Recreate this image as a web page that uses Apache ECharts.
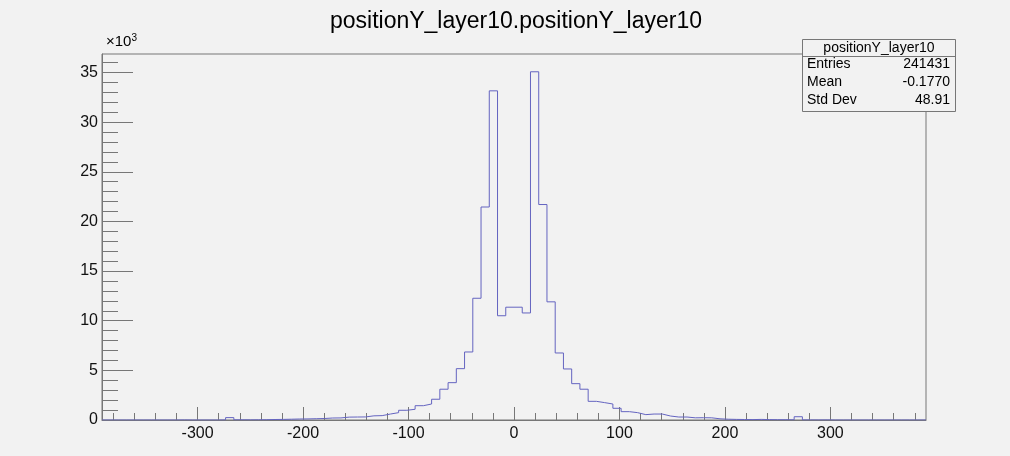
<!DOCTYPE html>
<html>
<head>
<meta charset="utf-8">
<script src="https://cdn.jsdelivr.net/npm/echarts@6/dist/echarts.min.js"></script>
<style>
  html, body { margin: 0; padding: 0; background: #f2f2f2; }
  #main { width: 1010px; height: 456px; }
</style>
</head>
<body>
<div id="main"></div>
<script>
// histogram range and bin contents (100 bins)
const xMin = -390.625;
const xMax = 390.625;
const counts = [
  0, 0, 0, 0, 0, 0, 0, 0, 0, 10,
  0, 0, 0, 0, 10, 240, 20, 15, 20, 30,
  50, 60, 80, 100, 110, 130, 150, 200, 210, 290,
  300, 310, 420, 440, 600, 740, 980, 1080, 1440, 1610,
  2090, 3100, 3760, 5170, 6850, 12260, 21450, 33150, 10500, 11360,
  11360, 10780, 35070, 21700, 11900, 6750, 5140, 3660, 3100, 1880,
  1750, 1610, 1180, 840, 740, 540, 600, 600, 400, 300,
  300, 220, 230, 220, 120, 80, 60, 50, 40, 60,
  40, 30, 30, 20, 330, 10, 5, 10, 0, 0,
  0, 0, 0, 0, 0, 0, 0, 0, 0, 0
];
const xMajorTicks = [-300, -200, -100, 0, 100, 200, 300];
const xMinorTicks = [];
for (let v = -380; v <= 380; v += 20) xMinorTicks.push(v);
const yMajorTicks = [0, 5000, 10000, 15000, 20000, 25000, 30000, 35000];
const yMinorTicks = [];
for (let v = 0; v <= 36000; v += 1000) yMinorTicks.push(v);
const yMax = 36860;

const statNames = ['Entries', 'Mean', 'Std Dev'];
const statValues = ['241431', '-0.1770', '48.91'];

const binWidth = (xMax - xMin) / counts.length;
const stepData = [[xMin, 0]];
counts.forEach(function (c, i) {
  stepData.push([xMin + i * binWidth, c]);
});
stepData.push([xMax, counts[counts.length - 1]]);
stepData.push([xMax, 0]);

const font = 'Liberation Sans';
const axisGrey = '#777777';

const chart = echarts.init(document.getElementById('main'));

const graphics = [
  {
    type: 'text', left: 106, top: 33,
    style: {
      text: '×10{sup|3}',
      font: '15px "' + font + '"', fill: '#000',
      rich: { sup: { fontSize: 10, verticalAlign: 'top', padding: [0, 0, 8, 0], fontFamily: font } }
    }
  },
  {
    type: 'rect',
    shape: { x: 802.5, y: 39.5, width: 153, height: 72 },
    style: { fill: '#f2f2f2', stroke: axisGrey, lineWidth: 1 }
  },
  {
    type: 'line',
    shape: { x1: 802.5, y1: 56.5, x2: 955.5, y2: 56.5 },
    style: { stroke: axisGrey, lineWidth: 1 }
  },
  {
    type: 'text', x: 879, y: 48,
    style: { text: 'positionY_layer10', font: '14px "' + font + '"', fill: '#000',
      align: 'center', verticalAlign: 'middle' }
  }
];
statNames.forEach(function (n, i) {
  graphics.push({
    type: 'text', left: 807, top: 57 + i * 18,
    style: { text: n, font: '14px "' + font + '"', fill: '#000' }
  });
  graphics.push({
    type: 'text', right: 60, top: 57 + i * 18,
    style: { text: statValues[i], font: '14px "' + font + '"', fill: '#000', align: 'right' }
  });
});

const option = {
  backgroundColor: '#f2f2f2',
  animation: false,
  title: {
    text: 'positionY_layer10.positionY_layer10',
    left: 511,
    top: 5,
    textAlign: 'center',
    textStyle: { fontFamily: font, fontSize: 23, fontWeight: 'normal', color: '#000' }
  },
  grid: {
    left: 102, right: 84, top: 54, bottom: 36,
    show: true, borderColor: axisGrey, borderWidth: 1, backgroundColor: 'transparent'
  },
  xAxis: [
    {
      type: 'value', min: xMin, max: xMax, position: 'bottom',
      axisLine: { show: true, onZero: false, lineStyle: { color: axisGrey, width: 1 } },
      axisTick: { show: true, inside: true, length: 13, customValues: xMajorTicks,
        lineStyle: { color: axisGrey } },
      axisLabel: { show: true, customValues: xMajorTicks, margin: 6,
        fontFamily: font, fontSize: 16, color: '#111' },
      splitLine: { show: false }
    },
    {
      type: 'value', min: xMin, max: xMax, position: 'bottom',
      axisLine: { show: false, onZero: false },
      axisTick: { show: true, inside: true, length: 7, customValues: xMinorTicks,
        lineStyle: { color: axisGrey } },
      axisLabel: { show: false },
      splitLine: { show: false }
    }
  ],
  yAxis: [
    {
      type: 'value', min: 0, max: yMax, position: 'left',
      axisLine: { show: true, onZero: false, lineStyle: { color: axisGrey, width: 1 } },
      axisTick: { show: true, inside: true, length: 31, customValues: yMajorTicks,
        lineStyle: { color: axisGrey } },
      axisLabel: { show: true, customValues: yMajorTicks, margin: 4,
        fontFamily: font, fontSize: 16, color: '#111',
        formatter: function (v) { return String(v / 1000); } },
      splitLine: { show: false }
    },
    {
      type: 'value', min: 0, max: yMax, position: 'left',
      axisLine: { show: false, onZero: false },
      axisTick: { show: true, inside: true, length: 16, customValues: yMinorTicks,
        lineStyle: { color: axisGrey } },
      axisLabel: { show: false },
      splitLine: { show: false }
    }
  ],
  series: [
    {
      type: 'line',
      xAxisIndex: 0,
      yAxisIndex: 0,
      step: 'end',
      symbol: 'none',
      data: stepData,
      lineStyle: { color: '#6464c0', width: 1 }
    }
  ],
  graphic: graphics
};

chart.setOption(option);
</script>
</body>
</html>
